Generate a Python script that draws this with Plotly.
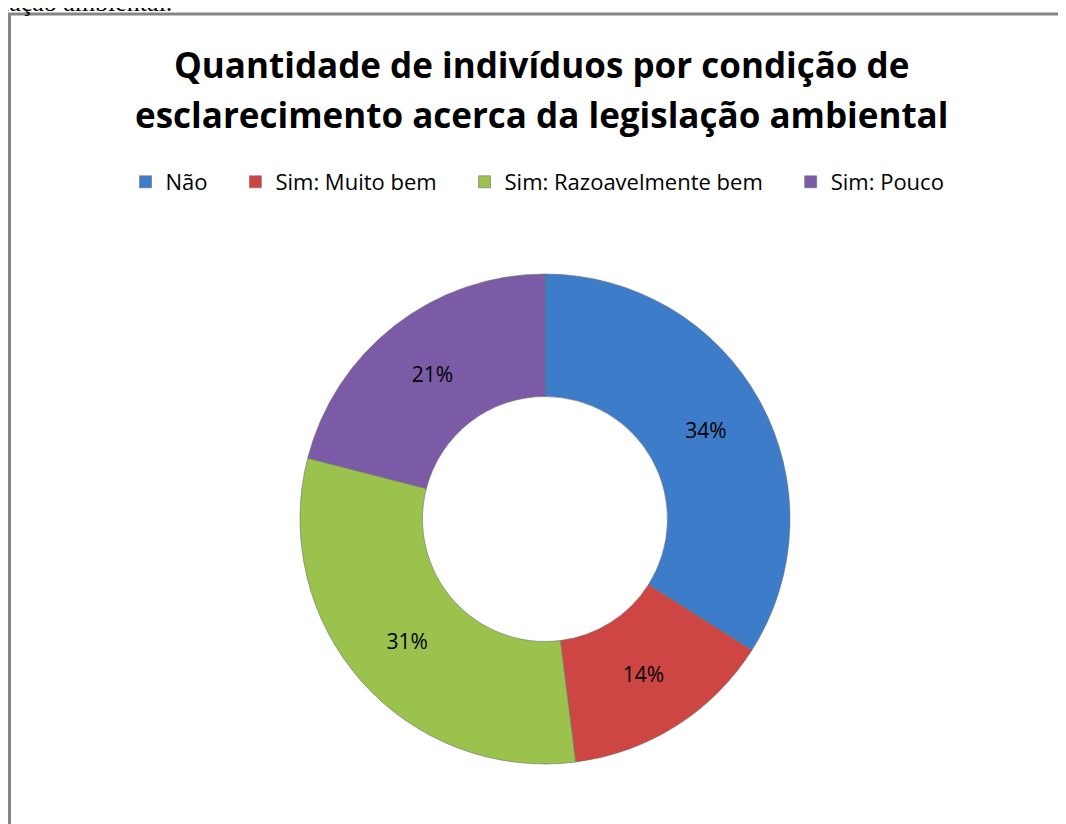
import plotly.graph_objects as go

# dados
categorias = ["Não", "Sim: Muito bem", "Sim: Razoavelmente bem", "Sim: Pouco"]
percentuais = [34, 14, 31, 21]
cores = ["#3D7CC9", "#CE4643", "#9CC24E", "#7C5BA6"]
titulo = ["Quantidade de indivíduos por condição de",
          "esclarecimento acerca da legislação ambiental"]

# a página tem margem de 8px no body, então desconto isso
W, H = 1058, 816
OX, OY = 8, 8


def px(x):
    return (x - OX) / W


def py(y):
    return 1 - (y - OY) / H


# centro e raio do anel (em pixels da imagem)
cx, cy, r = 545, 519, 245

# espaços no fim dos nomes para afastar os itens da legenda
nbsp = "\u00a0" * 4
nomes_legenda = [c + nbsp for c in categorias]

fig = go.Figure()

fig.add_trace(go.Pie(
    labels=nomes_legenda,
    values=percentuais,
    hole=0.5,
    sort=False,
    direction="clockwise",
    rotation=0,
    marker=dict(colors=cores, line=dict(color="#6f6f6f", width=0.6)),
    texttemplate="%{value}%",
    textposition="inside",
    insidetextorientation="horizontal",
    textfont=dict(family="Open Sans", size=21, color="black"),
    domain=dict(x=[px(cx - r), px(cx + r)], y=[py(cy + r), py(cy - r)]),
    hoverinfo="label+percent",
))

anots = []
for linha, yy in zip(titulo, [65, 115]):
    anots.append(dict(text="<b>" + linha + "</b>", x=px(541), y=py(yy),
                      xref="paper", yref="paper", xanchor="center", yanchor="middle",
                      showarrow=False, font=dict(family="Open Sans", size=35, color="black")))
anots.append(dict(text="lação ambiental.", x=px(0), y=py(2), xref="paper", yref="paper",
                  xanchor="left", yanchor="middle", showarrow=False,
                  font=dict(family="Liberation Serif", size=26, color="black")))

fig.update_layout(
    width=W, height=H,
    margin=dict(l=0, r=0, t=0, b=0),
    paper_bgcolor="white",
    font=dict(family="Open Sans", color="black"),
    showlegend=True,
    legend=dict(
        orientation="h", x=px(549), xanchor="center", y=py(182), yanchor="middle",
        font=dict(family="Open Sans", size=22, color="black"),
        itemwidth=30, traceorder="normal",
    ),
    shapes=[dict(type="rect", xref="paper", yref="paper",
                 x0=1.5 / W, x1=1.02, y0=-0.02, y1=py(14),
                 line=dict(color="#868686", width=3))],
    annotations=anots,
)

fig.write_html("out.html")
